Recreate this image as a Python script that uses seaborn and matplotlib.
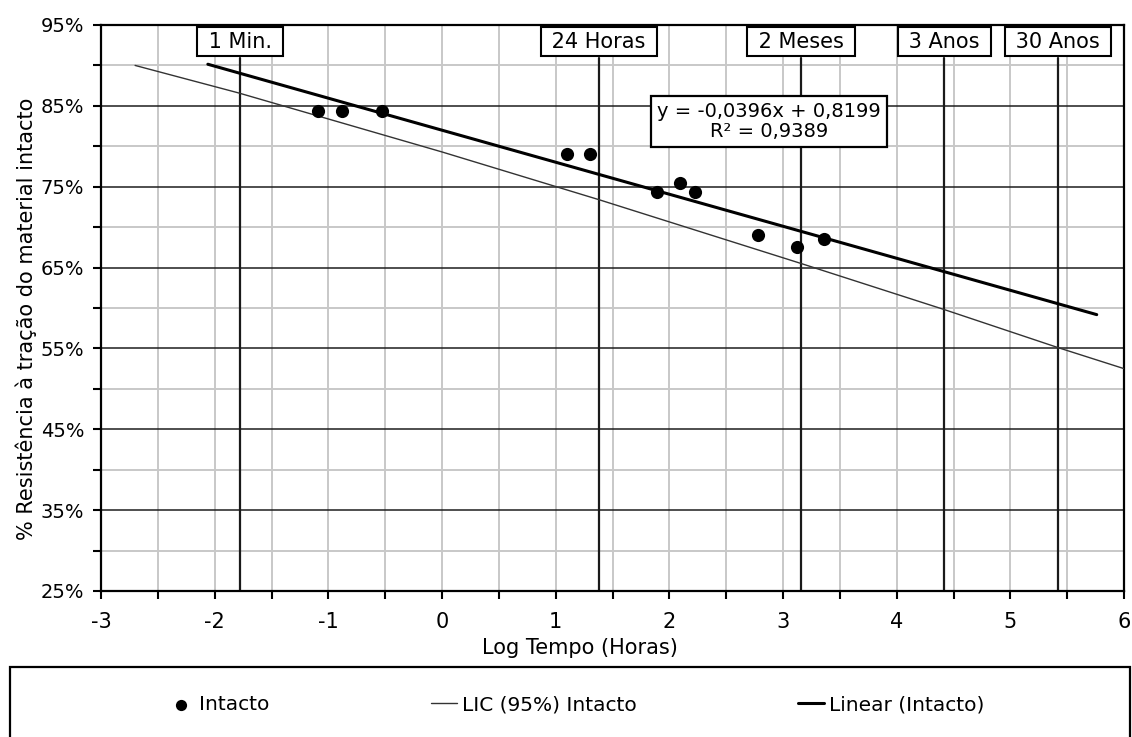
import numpy as np
import matplotlib
matplotlib.use("Agg")
import matplotlib.pyplot as plt
from matplotlib.ticker import FixedLocator, MultipleLocator, PercentFormatter
from matplotlib.patches import Rectangle
import seaborn as sns

# Ensaios do material intacto: log do tempo (h) e resistência retida
log_tempo = [-1.09, -0.88, -0.53, 1.10, 1.30, 1.89, 2.09, 2.23, 2.78, 3.12, 3.36]
resistencia = [0.844, 0.844, 0.844, 0.790, 0.790, 0.743, 0.755, 0.744, 0.690, 0.675, 0.685]

# Limite inferior de confiança (95%)
lic_x = [-2.70, -1.79, 0.0, 1.38, 3.16, 4.42, 5.42, 6.0]
lic_y = [0.900, 0.866, 0.793, 0.734, 0.655, 0.598, 0.551, 0.525]

# Regressão linear (Intacto)
slope = -0.0396
intercept = 0.8199
r2 = 0.9389
fit_x = [-2.06, 5.76]

# Marcos de tempo, em horas
marcos_horas = [1 / 60, 24, 24 * 60, 24 * 365 * 3, 24 * 365 * 30]
marcos_labels = ["1 Min.", "24 Horas", "2 Meses", "3 Anos", "30 Anos"]

# Divisões do eixo vertical
y_major = [0.25, 0.35, 0.45, 0.55, 0.65, 0.75, 0.85, 0.95]
y_minor = [0.30, 0.40, 0.50, 0.60, 0.70, 0.80, 0.90]

sns.set_theme(style="white")
plt.rcParams["font.family"] = ["DejaVu Sans"]
plt.rcParams["axes.unicode_minus"] = False
for key in ["text.color", "axes.labelcolor", "xtick.color", "ytick.color"]:
    plt.rcParams[key] = "black"
FS = 15
FS_EQ = 14

W, H = 1132, 737
fig = plt.figure(figsize=(W / 100, H / 100), dpi=100)
ax = fig.add_axes([101 / W, 1 - 591 / H, 1023 / W, 566 / H])

# Grelha
ax.set_axisbelow(True)
ax.xaxis.set_major_locator(MultipleLocator(1))
ax.xaxis.set_minor_locator(MultipleLocator(0.5))
ax.yaxis.set_major_locator(FixedLocator(y_major))
ax.yaxis.set_minor_locator(FixedLocator(y_minor))
ax.grid(which="minor", axis="y", color="#c8c8c8", lw=1.4)
ax.grid(which="major", axis="y", color="#1e1e1e", lw=1.1)
ax.grid(which="both", axis="x", color="#c8c8c8", lw=1.4)

# Linhas verticais dos marcos de tempo
marcos_x = np.log10(marcos_horas)
for xm, lab in zip(marcos_x, marcos_labels):
    ax.axvline(xm, ymin=0, ymax=(591 - 58) / 566, color="#1a1a1a", lw=1.6, zorder=2)
    ax.text(xm, (591 - 41.5) / 566, f" {lab} ", transform=ax.get_xaxis_transform(),
            ha="center", va="center", fontsize=FS, color="black", zorder=6,
            bbox=dict(boxstyle="square,pad=0.22", fc="white", ec="black", lw=1.5))

# Séries
fit_y = [slope * x + intercept for x in fit_x]
sns.lineplot(x=lic_x, y=lic_y, color="#333333", lw=1.0, label="LIC (95%) Intacto",
             ax=ax, zorder=3, estimator=None)
sns.lineplot(x=fit_x, y=fit_y, color="black", lw=2.2, label="Linear (Intacto)",
             ax=ax, zorder=4, estimator=None)
sns.scatterplot(x=log_tempo, y=resistencia, color="black", s=90, edgecolor="black",
                linewidth=0, label="Intacto", ax=ax, zorder=5)

# Equação da reta de tendência
eq = f"y = {slope:.4f}x + {intercept:.4f}".replace(".", ",")
r2_txt = f"R² = {r2:.4f}".replace(".", ",")
ax.text(2.877, 0.8307, eq + "\n" + r2_txt, ha="center", va="center",
        multialignment="center", fontsize=FS_EQ, color="black", zorder=6, linespacing=1.1,
        bbox=dict(boxstyle="square,pad=0.3", fc="white", ec="black", lw=1.6))

# Eixos
ax.set_xlim(-3, 6)
ax.set_ylim(0.25, 0.95)
ax.yaxis.set_major_formatter(PercentFormatter(xmax=1, decimals=0))
for s in ax.spines.values():
    s.set_visible(True)
    s.set_color("black")
    s.set_linewidth(1.6)
ax.tick_params(which="both", direction="out", length=6, width=1.5, color="black",
               left=True, bottom=True)
ax.tick_params(axis="x", which="major", labelsize=FS, labelcolor="black", pad=9)
ax.tick_params(axis="y", which="major", labelsize=14, labelcolor="black", pad=6)

ax.set_xlabel("Log Tempo (Horas)", fontsize=FS, color="black")
ax.set_ylabel("% Resistência à tração do material intacto", fontsize=FS, color="black")
ax.xaxis.set_label_coords(0.468, -0.083)
ax.yaxis.set_label_coords(-0.063, 0.481)

# Legenda
handles, labels = ax.get_legend_handles_labels()
ax.get_legend().remove()
order = [labels.index(n) for n in ["Intacto", "LIC (95%) Intacto", "Linear (Intacto)"]]
leg = fig.legend([handles[i] for i in order], [labels[i] for i in order],
                 loc="center", bbox_to_anchor=(0.509, 1 - 705 / H), ncol=3, frameon=False,
                 fontsize=14.5, handlelength=1.3, handletextpad=0.25, columnspacing=8.0,
                 markerscale=0.85)
for t in leg.get_texts():
    t.set_color("black")
fig.patches.append(Rectangle((10 / W, -0.05), 1120 / W, 0.05 + 1 - 667 / H,
                             transform=fig.transFigure, fill=False, ec="black", lw=1.6))

fig.savefig("out.png", dpi=100, facecolor="white")
